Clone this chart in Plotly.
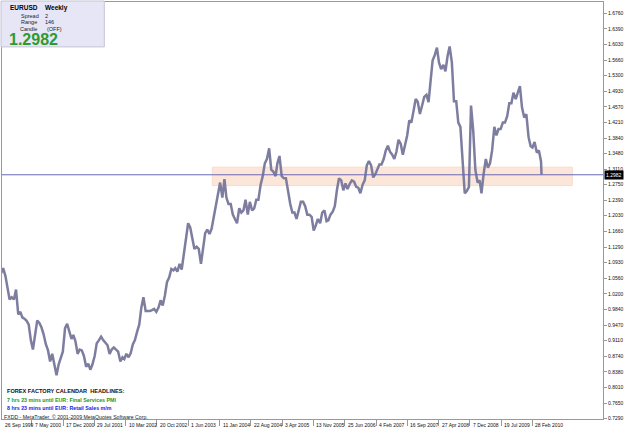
import pandas as pd
import plotly.graph_objects as go

# ---------------- data ----------------
symbol = "EURUSD"
period = "Weekly"
spread = "2"
range_txt = "146"
candle_txt = "(OFF)"
bid = 1.2982

# semi-monthly readings (15th and month end) of the weekly EURUSD line
eur_1999 = [1.068, 1.080, 1.062, 1.033, 1.007, 1.012, 1.007]  # from 30 Sep 1999
eur_2000 = [1.030, 0.972, 0.978, 0.965, 0.962, 0.957, 0.948, 0.912, 0.890, 0.930, 0.958, 0.952,
            0.942, 0.925, 0.903, 0.888, 0.862, 0.880, 0.852, 0.830, 0.855, 0.870, 0.885, 0.940]
eur_2001 = [0.950, 0.932, 0.915, 0.924, 0.910, 0.880, 0.890, 0.888, 0.875, 0.850, 0.857, 0.843,
            0.855, 0.875, 0.905, 0.912, 0.920, 0.912, 0.905, 0.900, 0.880, 0.890, 0.895, 0.890]
eur_2002 = [0.885, 0.862, 0.872, 0.868, 0.880, 0.872, 0.882, 0.902, 0.912, 0.932, 0.948, 0.988,
            1.012, 0.980, 0.980, 0.980, 0.982, 0.985, 0.978, 0.988, 1.005, 0.993, 1.015, 1.048]
eur_2003 = [1.058, 1.078, 1.075, 1.080, 1.072, 1.090, 1.077, 1.115, 1.155, 1.185, 1.175, 1.150,
            1.125, 1.130, 1.125, 1.090, 1.130, 1.162, 1.170, 1.160, 1.172, 1.198, 1.230, 1.258]
eur_2004 = [1.280, 1.245, 1.288, 1.245, 1.230, 1.230, 1.205, 1.195, 1.185, 1.220, 1.210, 1.215,
            1.240, 1.205, 1.235, 1.215, 1.220, 1.240, 1.240, 1.275, 1.295, 1.325, 1.335, 1.360]
eur_2005 = [1.310, 1.305, 1.295, 1.325, 1.342, 1.295, 1.290, 1.290, 1.260, 1.230, 1.210, 1.210,
            1.195, 1.215, 1.235, 1.235, 1.225, 1.205, 1.205, 1.200, 1.168, 1.180, 1.195, 1.185]
eur_2006 = [1.210, 1.215, 1.190, 1.192, 1.205, 1.212, 1.225, 1.262, 1.290, 1.285, 1.262, 1.278,
            1.265, 1.277, 1.285, 1.282, 1.270, 1.268, 1.255, 1.275, 1.285, 1.320, 1.330, 1.320]
eur_2007 = [1.292, 1.300, 1.310, 1.322, 1.322, 1.335, 1.355, 1.366, 1.352, 1.345, 1.335, 1.352,
            1.380, 1.370, 1.345, 1.365, 1.390, 1.425, 1.420, 1.448, 1.475, 1.468, 1.440, 1.460]
eur_2008 = [1.480, 1.485, 1.468, 1.515, 1.565, 1.578, 1.595, 1.560, 1.545, 1.555, 1.540, 1.575,
            1.598, 1.560, 1.470, 1.470, 1.420, 1.410, 1.340, 1.255, 1.260, 1.270, 1.460, 1.400]
eur_2009 = [1.310, 1.280, 1.285, 1.255, 1.300, 1.335, 1.315, 1.325, 1.355, 1.410, 1.390, 1.405,
            1.405, 1.420, 1.420, 1.435, 1.465, 1.465, 1.490, 1.475, 1.490, 1.505, 1.455, 1.432]
eur_2010 = [1.440, 1.386, 1.365, 1.362, 1.375, 1.350, 1.355, 1.330]
last_date = "2010-05-04"

y_ticks = [1.6760, 1.6390, 1.6030, 1.5660, 1.5300, 1.4930, 1.4570, 1.4210, 1.3840,
           1.3480, 1.3110, 1.2750, 1.2390, 1.2030, 1.1660, 1.1290, 1.0930, 1.0560,
           1.0200, 0.9840, 0.9470, 0.9110, 0.8740, 0.8380, 0.8010, 0.7650, 0.7290]
x_tick_dates = ["1999-09-26", "2000-05-07", "2000-12-17", "2001-07-29", "2002-03-10",
                "2002-10-20", "2003-06-01", "2004-01-11", "2004-08-22", "2005-04-03",
                "2005-11-13", "2006-06-25", "2007-02-04", "2007-09-16", "2008-04-27",
                "2008-12-07", "2009-07-19", "2010-02-28"]
x_tick_text = ["26 Sep 1999", "7 May 2000", "17 Dec 2000", "29 Jul 2001", "10 Mar 2002",
               "20 Oct 2002", "1 Jun 2003", "11 Jan 2004", "22 Aug 2004", "3 Apr 2005",
               "13 Nov 2005", "25 Jun 2006", "4 Feb 2007", "16 Sep 2007", "27 Apr 2008",
               "7 Dec 2008", "19 Jul 2009", "28 Feb 2010"]
zone_dates = ["2003-11-20", "2010-12-10"]
zone_prices = [1.2730, 1.3160]

headline_title = "FOREX FACTORY CALENDAR  HEADLINES:"
headline_1 = "7 hrs 23 mins until EUR: Final Services PMI"
headline_2 = "8 hrs 23 mins until EUR: Retail Sales m/m"
copyright_txt = "FXDD - MetaTrader, \u00a9 2001-2009 MetaQuotes Software Corp."

# ---------------- build dates ----------------
def semi_month_dates(year, months):
    out = []
    for m in months:
        out.append(pd.Timestamp(year=year, month=m, day=15))
        out.append(pd.Timestamp(year=year, month=m, day=1) + pd.offsets.MonthEnd(0))
    return out

dates = [pd.Timestamp("1999-09-30")] + semi_month_dates(1999, [10, 11, 12])
values = list(eur_1999)
for yr, arr in [(2000, eur_2000), (2001, eur_2001), (2002, eur_2002), (2003, eur_2003),
                (2004, eur_2004), (2005, eur_2005), (2006, eur_2006), (2007, eur_2007),
                (2008, eur_2008), (2009, eur_2009)]:
    dates += semi_month_dates(yr, range(1, 13))
    values += arr
dates += semi_month_dates(2010, range(1, 5))
values += eur_2010
dates.append(pd.Timestamp(last_date))
values.append(bid)

# ---------------- geometry ----------------
W, H = 625, 429
PL, PR, PT, PB = 1, 606, 1, 419
base = pd.Timestamp("1999-09-26")
px_per_week = 0.9844
def date_at_px(p):
    return base + pd.Timedelta(days=7 * (p + 0.5) / px_per_week)
x_range = [date_at_px(PL), date_at_px(PR)]
y_range = [0.7278, 1.7017]

def fx(x):
    return (x - PL) / (PR - PL)
def fy(y):
    return (PB - y) / (PB - PT)

FONT = "Liberation Sans"

fig = go.Figure()
fig.add_trace(go.Scatter(x=dates, y=values, mode="lines",
                         line=dict(color="#7d7da0", width=2.5), hoverinfo="skip"))

shapes = [
    dict(type="rect", xref="x", yref="y", x0=zone_dates[0], x1=zone_dates[1],
         y0=zone_prices[0], y1=zone_prices[1], fillcolor="#fbe6d9",
         line=dict(color="#f7dccb", width=1), layer="below"),
    dict(type="line", xref="paper", yref="y", x0=0, x1=1, y0=bid, y1=bid,
         line=dict(color="#6a6ab4", width=1)),
    dict(type="rect", xref="paper", yref="paper", x0=fx(0), x1=fx(104), y0=fy(0), y1=fy(46),
         fillcolor="#e6e6f6", line=dict(color="#c4c4d4", width=1)),
]

ann = []
def txt(x, y, s, size, color="#000000", bold=False):
    ann.append(dict(xref="paper", yref="paper", x=fx(x), y=fy(y), text=("<b>%s</b>" % s) if bold else s,
                    showarrow=False, xanchor="left", yanchor="middle",
                    font=dict(family=FONT, size=size, color=color)))

txt(7, 7, symbol, 6.5, bold=True)
txt(42, 7, period, 6.5, bold=True)
txt(18, 15, "Spread", 5.5, "#222222")
txt(42, 15, spread, 5.5, "#222222")
txt(18, 21.5, "Range", 5.5, "#222222")
txt(42, 21.5, range_txt, 5.5, "#222222")
txt(17, 28, "Candle", 5.5, "#222222")
txt(44, 28, candle_txt, 5.5, "#222222")
txt(6, 39, "%.4f" % bid, 16, "#2f9a2f", bold=True)

txt(4, 391, headline_title, 5.6, "#111111", bold=True)
txt(4, 399.5, headline_1, 5.3, "#1a961a", bold=True)
txt(4, 407.5, headline_2, 5.3, "#2020e0", bold=True)
txt(1, 416.5, copyright_txt, 5.2, "#222222")

for d, t in zip(x_tick_dates, x_tick_text):
    xd = max(pd.Timestamp(d), x_range[0])
    ann.append(dict(xref="x", yref="paper", x=xd, y=0, text=t, showarrow=False,
                    xanchor="left", yanchor="top", xshift=1, yshift=-1,
                    font=dict(family=FONT, size=5, color="#111111")))

ann.append(dict(xref="paper", yref="y", x=1, y=bid, text="%.4f" % bid, showarrow=False,
                xanchor="left", yanchor="middle", xshift=1, bgcolor="#000000", borderpad=1,
                font=dict(family=FONT, size=5, color="#ffffff")))

fig.update_layout(
    width=W, height=H,
    margin=dict(l=PL, r=W - PR, t=PT, b=H - PB),
    paper_bgcolor="white", plot_bgcolor="white",
    showlegend=False,
    shapes=shapes, annotations=ann,
    xaxis=dict(type="date", range=x_range, showgrid=False, zeroline=False,
               showline=True, mirror=True, linecolor="#999999", linewidth=1,
               tickmode="array", tickvals=x_tick_dates, ticks="outside", ticklen=6,
               tickcolor="#999999", showticklabels=False, fixedrange=True),
    yaxis=dict(range=y_range, side="right", showgrid=False, zeroline=False,
               showline=True, mirror=True, linecolor="#999999", linewidth=1,
               tickmode="array", tickvals=y_ticks, ticktext=["%.4f" % v for v in y_ticks],
               ticks="outside", ticklen=3, tickcolor="#999999",
               tickfont=dict(family=FONT, size=5, color="#111111"), fixedrange=True),
)

fig.write_html("out.html")
